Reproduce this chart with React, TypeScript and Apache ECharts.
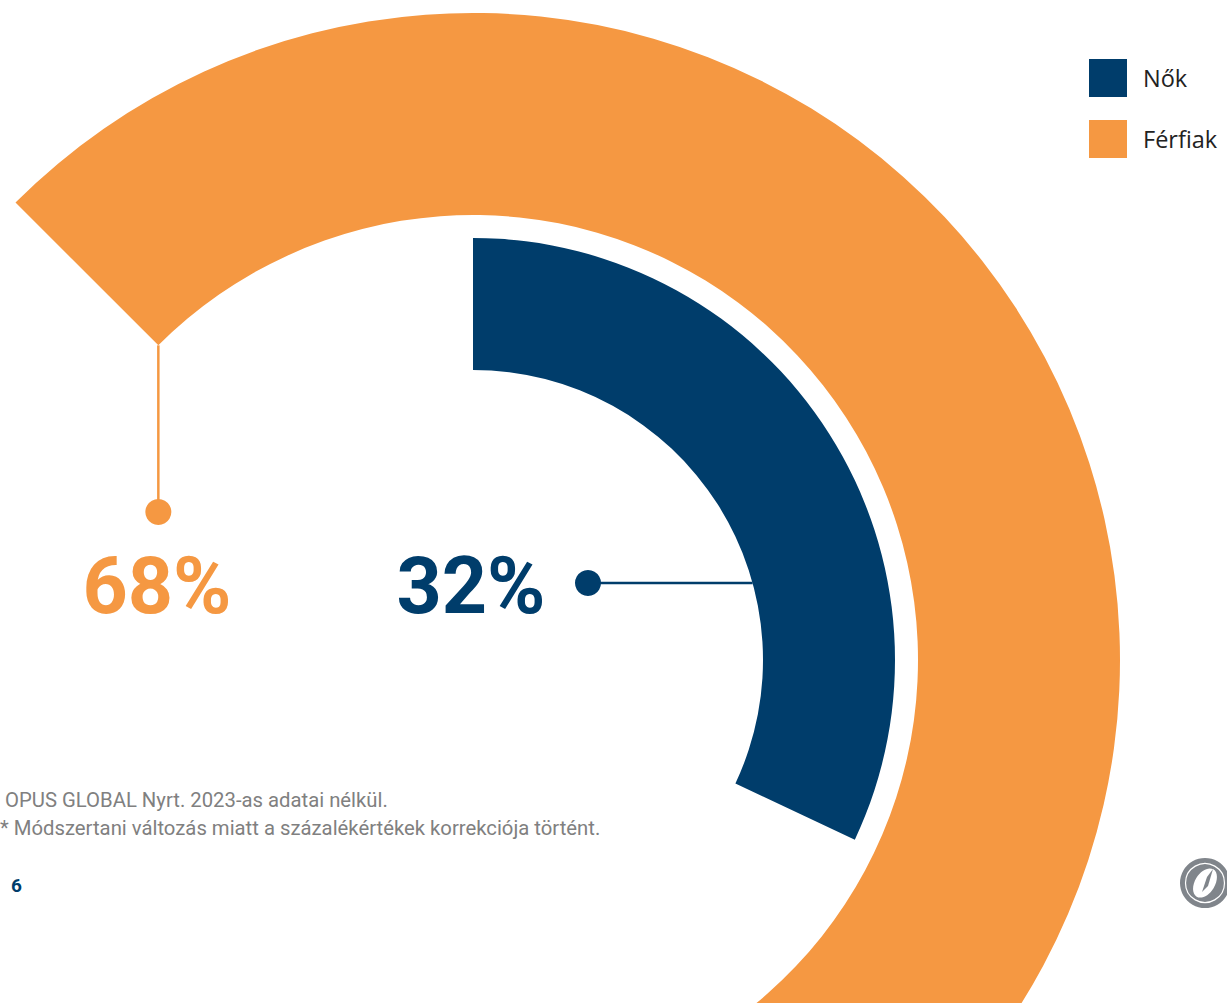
import React, { useEffect, useRef } from "react";
import * as echarts from "echarts";

const categories = ["Nők", "Férfiak"];
const values = [32, 68];
const colors = ["#003D6B", "#F59842"];
const footnotes = [
  "OPUS GLOBAL Nyrt. 2023-as adatai nélkül.",
  "* Módszertani változás miatt a százalékértékek korrekciója történt.",
];
const pageNumber = "6";

export default function App() {
  const ref = useRef<HTMLDivElement>(null);
  useEffect(() => {
    const chart = echarts.init(ref.current!, null, { renderer: "svg" });
    const total = values[0] + values[1];
    const cx = 473;
    const cy = 660;
    const blank = { color: "rgba(0,0,0,0)" };
    const common = {
      type: "pie",
      center: [cx, cy],
      clockwise: true,
      label: { show: false },
      labelLine: { show: false },
      emphasis: { disabled: true },
      silent: true,
    };
    const orangeInner = 445;
    const orangeStart = 135;
    const sx = cx + orangeInner * Math.cos((orangeStart * Math.PI) / 180);
    const sy = cy - orangeInner * Math.sin((orangeStart * Math.PI) / 180);

    chart.setOption({
      animation: false,
      backgroundColor: "#ffffff",
      color: colors,
      legend: {
        orient: "vertical",
        left: 1089,
        top: 59,
        padding: 0,
        itemWidth: 38,
        itemHeight: 38,
        itemGap: 23,
        icon: "rect",
        selectedMode: false,
        data: categories.map((c, i) => ({ name: c, itemStyle: { color: colors[i] } })),
        textStyle: {
          fontFamily: "Open Sans",
          fontSize: 23.5,
          color: "#222222",
          padding: [0, 0, 0, 11],
        },
      },
      series: [
        {
          ...common,
          name: categories[1],
          radius: [orangeInner, 647],
          startAngle: orangeStart,
          data: [
            { name: categories[1], value: values[1], itemStyle: { color: colors[1] } },
            { name: "rest1", value: total - values[1], itemStyle: blank },
          ],
        },
        {
          ...common,
          name: categories[0],
          radius: [290, 422],
          startAngle: 90,
          data: [
            { name: categories[0], value: values[0], itemStyle: { color: colors[0] } },
            { name: "rest0", value: total - values[0], itemStyle: blank },
          ],
        },
      ],
      graphic: [
        {
          type: "line",
          shape: { x1: sx, y1: sy, x2: sx, y2: 512 },
          style: { stroke: colors[1], lineWidth: 2.5 },
        },
        { type: "circle", shape: { cx: sx, cy: 512, r: 13 }, style: { fill: colors[1] } },
        {
          type: "text",
          x: 157,
          y: 586,
          style: {
            text: values[1] + "%",
            fill: colors[1],
            font: "bold 79px Roboto",
            align: "center",
            verticalAlign: "middle",
          },
        },
        {
          type: "line",
          shape: { x1: 588, y1: 583, x2: cx + Math.sqrt(290 * 290 - (cy - 583) * (cy - 583)), y2: 583 },
          style: { stroke: colors[0], lineWidth: 2.5 },
        },
        { type: "circle", shape: { cx: 588, cy: 583, r: 13 }, style: { fill: colors[0] } },
        {
          type: "text",
          x: 471,
          y: 586,
          style: {
            text: values[0] + "%",
            fill: colors[0],
            font: "bold 79px Roboto",
            align: "center",
            verticalAlign: "middle",
          },
        },
        {
          type: "text",
          x: 5,
          y: 800,
          style: {
            text: footnotes[0],
            fill: "#808080",
            font: "20.3px Roboto",
            align: "left",
            verticalAlign: "middle",
          },
        },
        {
          type: "text",
          x: 0,
          y: 828,
          style: {
            text: footnotes[1],
            fill: "#808080",
            font: "20.3px Roboto",
            align: "left",
            verticalAlign: "middle",
          },
        },
        {
          type: "text",
          x: 11,
          y: 885,
          style: {
            text: pageNumber,
            fill: colors[0],
            font: "bold 19px Roboto",
            align: "left",
            verticalAlign: "middle",
          },
        },
        {
          type: "group",
          x: 1205,
          y: 883,
          children: [
            { type: "circle", shape: { cx: 0, cy: 0, r: 25 }, style: { fill: "#80858b" } },
            {
              type: "circle",
              shape: { cx: 0, cy: 0, r: 19.5 },
              style: { fill: "none", stroke: "#ffffff", lineWidth: 1.2 },
            },
            {
              type: "ellipse",
              rotation: -0.55,
              shape: { cx: 0, cy: 0, rx: 10, ry: 16 },
              style: { fill: "#ffffff" },
            },
            {
              type: "polygon",
              shape: { points: [[2, -6], [8, -14], [3, 3], [-3, 9]] },
              style: { fill: "#80858b" },
            },
          ],
        },
      ],
    });
    return () => chart.dispose();
  }, []);
  return (
    <div
      ref={ref}
      style={{ position: "fixed", left: 0, top: 0, width: 1227, height: 1003, background: "#fff" }}
    />
  );
}
